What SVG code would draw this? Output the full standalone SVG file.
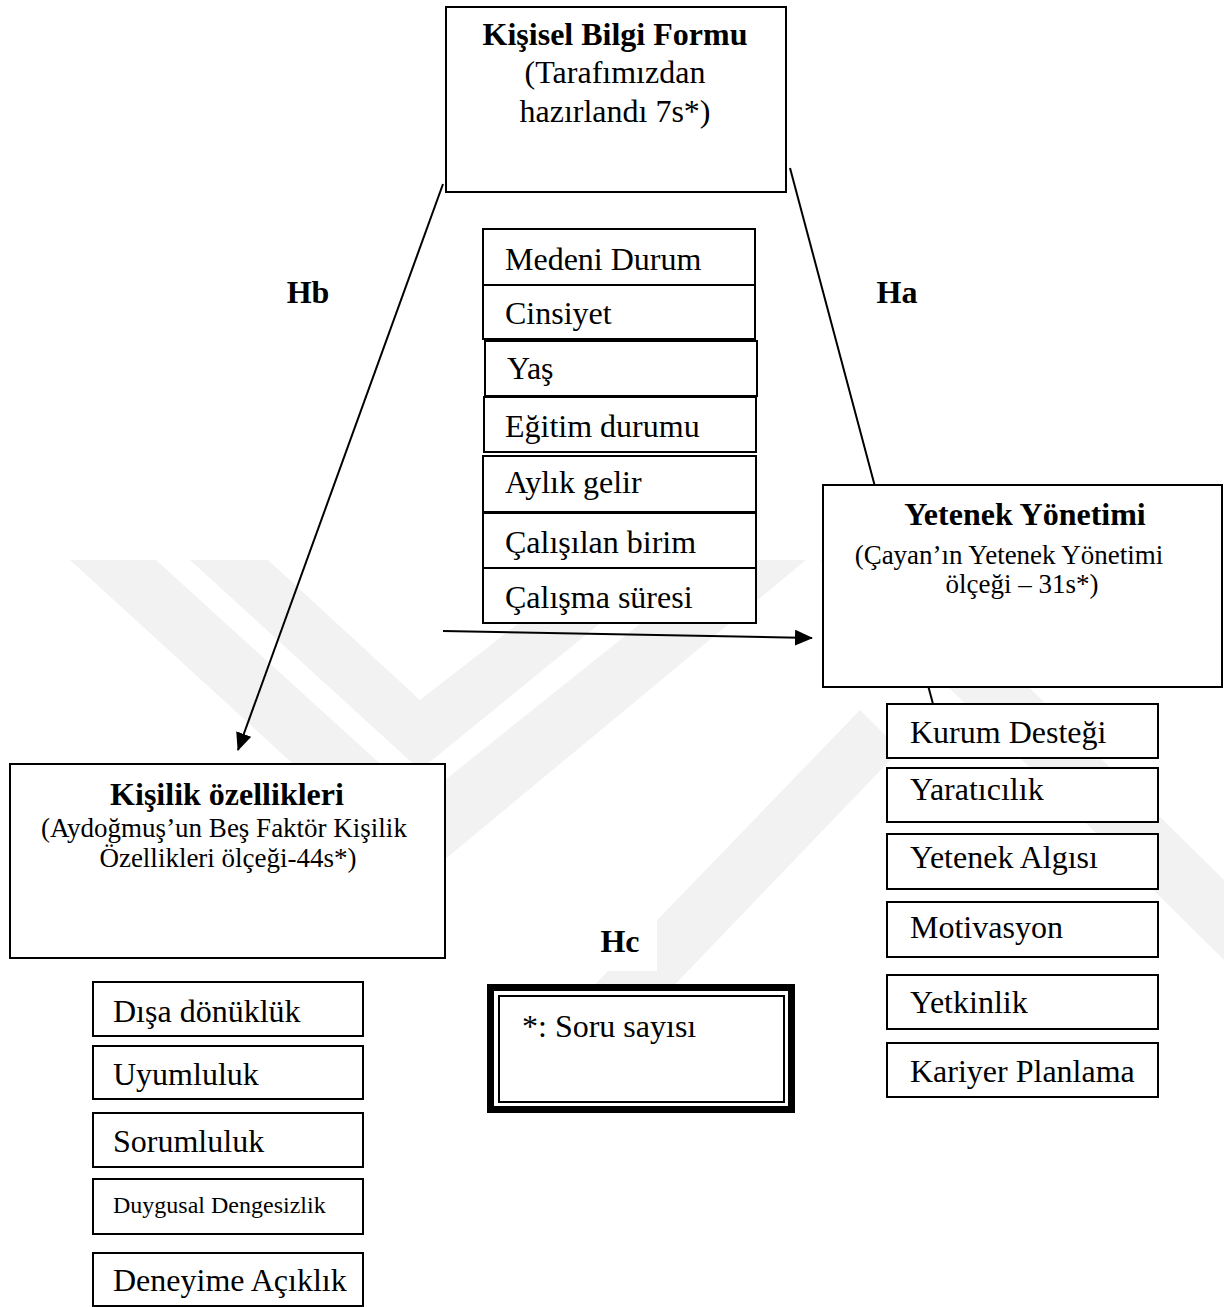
<svg xmlns="http://www.w3.org/2000/svg" width="1224" height="1307" viewBox="0 0 1224 1307">
<style>
text{font-family:"Liberation Serif","Times New Roman",serif;fill:#000}
.t{font-size:32px;font-weight:bold;text-anchor:middle}
.s{font-size:32px;text-anchor:middle}
.s2{font-size:27px;text-anchor:middle}
.i{font-size:32px}
.sm{font-size:24px}
.h{font-size:32px;font-weight:bold;text-anchor:middle}
.box{fill:#fff;stroke:#000;stroke-width:2}
.c{stroke:#000;stroke-width:2;fill:none}
.wm{fill:#f2f2f2}
</style>
<defs>
<marker id="ah" viewBox="0 0 18 16" refX="17" refY="8" markerWidth="18" markerHeight="16" markerUnits="userSpaceOnUse" orient="auto">
<path d="M0,0 L18,8 L0,16 z" fill="#000"/>
</marker>
</defs>
<rect width="1224" height="1307" fill="#fff"/>
<g id="watermark">
<polygon class="wm" points="70,560 156,560 420,800 720,560 806,560 420,880"/>
<polygon class="wm" points="190,560 268,560 420,700 600,560 678,560 420,770"/>
<polygon class="wm" points="820,560 900,560 1224,880 1224,960"/>
<polygon class="wm" points="580,1000 660,1000 900,750 860,710"/>
</g>
<g id="connectors">
<line class="c" x1="790" y1="168" x2="933" y2="704"/>
<line class="c" x1="443" y1="184" x2="238" y2="750" marker-end="url(#ah)"/>
<line class="c" x1="443" y1="631" x2="812" y2="638" marker-end="url(#ah)"/>
</g>
<g id="kisisel-bilgi-formu">
<rect class="box" x="446" y="7" width="340" height="185"/>
<text class="t" x="615" y="45">Kişisel Bilgi Formu</text>
<text class="s" x="615" y="83">(Tarafımızdan</text>
<text class="s" x="615" y="122">hazırlandı 7s*)</text>
</g>
<g id="medeni-durum"><rect class="box" x="483" y="229" width="272" height="56"/><text class="i" x="505" y="270">Medeni Durum</text></g>
<g id="cinsiyet"><rect class="box" x="483" y="285" width="272" height="54"/><text class="i" x="505" y="324">Cinsiyet</text></g>
<g id="yas"><rect class="box" x="485" y="341" width="272" height="55"/><text class="i" x="507" y="379">Yaş</text></g>
<g id="egitim-durumu"><rect class="box" x="484" y="397" width="272" height="55"/><text class="i" x="505" y="437">Eğitim durumu</text></g>
<g id="aylik-gelir"><rect class="box" x="483" y="456" width="273" height="56"/><text class="i" x="505" y="493">Aylık gelir</text></g>
<g id="calisilan-birim"><rect class="box" x="483" y="513" width="273" height="55"/><text class="i" x="505" y="553">Çalışılan birim</text></g>
<g id="calisma-suresi"><rect class="box" x="483" y="568" width="273" height="55"/><text class="i" x="505" y="608">Çalışma süresi</text></g>
<g id="label-hb"><text class="h" x="308" y="303">Hb</text></g>
<g id="label-ha"><text class="h" x="897" y="303">Ha</text></g>
<g id="yetenek-yonetimi">
<rect class="box" x="823" y="485" width="399" height="202"/>
<text class="t" x="1025" y="525">Yetenek Yönetimi</text>
<text class="s2" x="1009" y="564">(Çayan’ın Yetenek Yönetimi</text>
<text class="s2" x="1022" y="593">ölçeği – 31s*)</text>
</g>
<g id="kurum-destegi"><rect class="box" x="887" y="704" width="271" height="54"/><text class="i" x="910" y="743">Kurum Desteği</text></g>
<g id="yaraticilik"><rect class="box" x="887" y="768" width="271" height="54"/><text class="i" x="910" y="800">Yaratıcılık</text></g>
<g id="yetenek-algisi"><rect class="box" x="887" y="834" width="271" height="55"/><text class="i" x="910" y="868">Yetenek Algısı</text></g>
<g id="motivasyon"><rect class="box" x="887" y="902" width="271" height="55"/><text class="i" x="910" y="938">Motivasyon</text></g>
<g id="yetkinlik"><rect class="box" x="887" y="975" width="271" height="54"/><text class="i" x="910" y="1013">Yetkinlik</text></g>
<g id="kariyer-planlama"><rect class="box" x="887" y="1043" width="271" height="54"/><text class="i" x="910" y="1082">Kariyer Planlama</text></g>
<g id="kisilik-ozellikleri">
<rect class="box" x="10" y="764" width="435" height="194"/>
<text class="t" x="227" y="805">Kişilik özellikleri</text>
<text class="s2" x="224" y="837">(Aydoğmuş’un Beş Faktör Kişilik</text>
<text class="s2" x="228" y="867">Özellikleri ölçeği-44s*)</text>
</g>
<g id="label-hc"><rect x="587" y="913" width="70" height="58" fill="#fff"/><text class="h" x="620" y="952">Hc</text></g>
<g id="soru-sayisi">
<rect x="490.5" y="987.5" width="301" height="122" fill="#fff" stroke="#000" stroke-width="7"/>
<rect x="499" y="996" width="285" height="106" fill="none" stroke="#000" stroke-width="2"/>
<text class="i" x="522" y="1037">*: Soru sayısı</text>
</g>
<g id="disa-donukluk"><rect class="box" x="93" y="982" width="270" height="54"/><text class="i" x="113" y="1022">Dışa dönüklük</text></g>
<g id="uyumluluk"><rect class="box" x="93" y="1046" width="270" height="53"/><text class="i" x="113" y="1085">Uyumluluk</text></g>
<g id="sorumluluk"><rect class="box" x="93" y="1113" width="270" height="54"/><text class="i" x="113" y="1152">Sorumluluk</text></g>
<g id="duygusal-dengesizlik"><rect class="box" x="93" y="1179" width="270" height="55"/><text class="sm" x="113" y="1213">Duygusal Dengesizlik</text></g>
<g id="deneyime-aciklik"><rect class="box" x="93" y="1253" width="270" height="53"/><text class="i" x="113" y="1291">Deneyime Açıklık</text></g>
</svg>
